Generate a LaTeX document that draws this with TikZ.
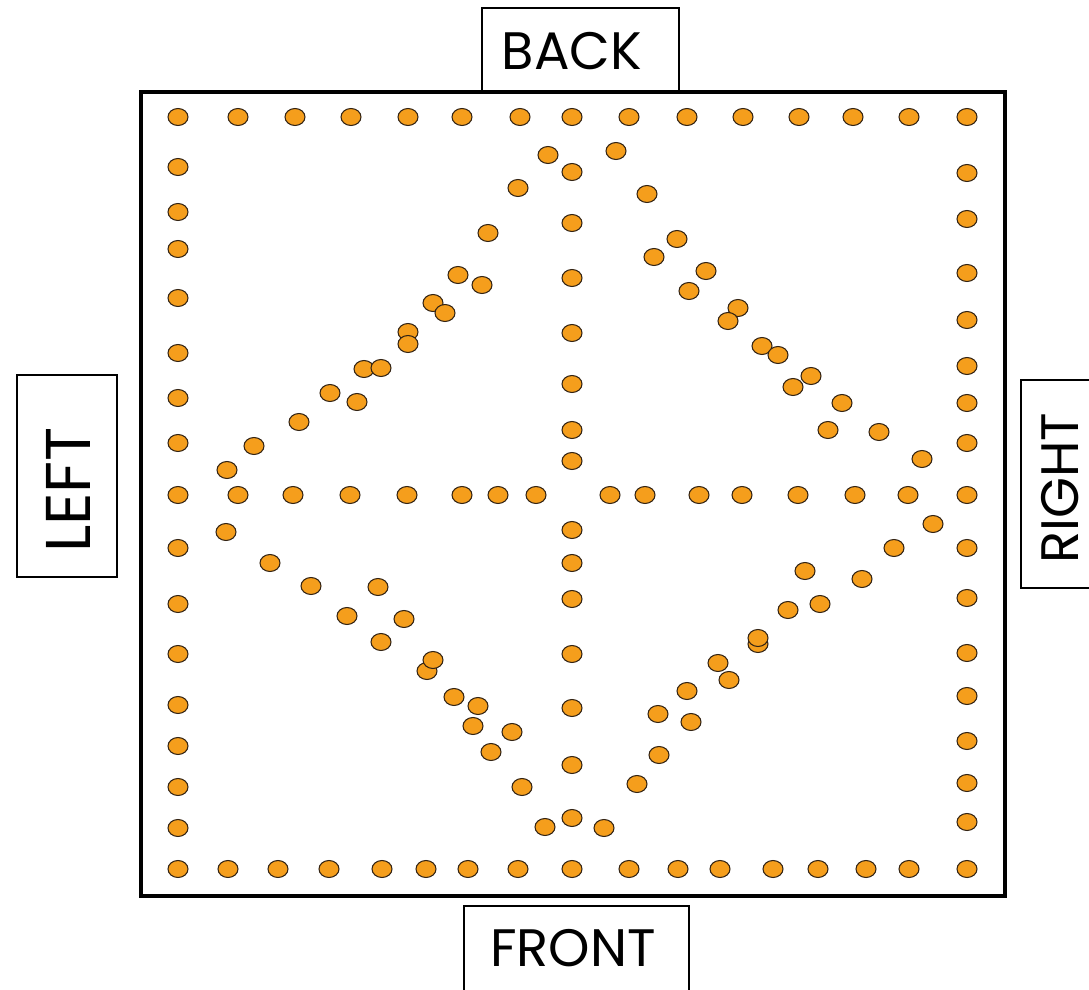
\documentclass[tikz,border=0pt]{standalone}
\usepackage{fontspec}
\setmainfont{Poppins}
\definecolor{dotorange}{RGB}{245,158,28}
\definecolor{dotline}{RGB}{50,35,20}
\tikzset{
  dot/.style={fill=dotorange,draw=dotline,line width=0.6pt},
  labelbox/.style={draw=black,line width=0.8pt},
  sidelabel/.style={inner sep=0pt,anchor=base,font=\fontsize{30}{30}\selectfont}
}
\begin{document}
\begin{tikzpicture}[x=0.02cm,y=-0.02cm]
\useasboundingbox (0,0) rectangle (1089,990);
\fill[white] (0,0) rectangle (1089,990);
% outer frame
\draw[line width=2.3pt] (141,92) rectangle (1005,896);
% label boxes
\draw[labelbox] (482,92) -- (482,8) -- (679,8) -- (679,92);
\draw[labelbox] (17,375) rectangle (117,577);
\draw[labelbox] (1100,380) -- (1021,380) -- (1021,588) -- (1100,588);
\draw[labelbox] (464,1000) -- (464,906) -- (689,906) -- (689,1000);
\node[sidelabel] (back) at (572,70) {BACK};
\node[sidelabel] (front) at (573,966) {FRONT};
\node[sidelabel,rotate=90,font=\fontsize{36}{36}\selectfont] (left) at (90,490) {LEFT};
\node[sidelabel,rotate=90] (right) at (1078,488) {RIGHT};
% top row
\foreach \x in {178,238,295,351,408,462,520,572,629,687,743,799,853,909,967}
  \draw[dot] (\x,117) ellipse (10 and 8.5);
% bottom row
\foreach \x in {178,228,278,329,382,426,468,518,572,629,678,720,773,818,866,909,967}
  \draw[dot] (\x,869) ellipse (10 and 8.5);
% left column
\foreach \y in {167,212,249,298,353,398,443,495,548,604,654,705,746,787,828}
  \draw[dot] (178,\y) ellipse (10 and 8.5);
% right column
\foreach \y in {173,219,273,320,366,403,443,495,548,598,653,696,741,783,822}
  \draw[dot] (967,\y) ellipse (10 and 8.5);
% middle row
\foreach \x in {238,293,350,407,462,498,536,610,645,699,742,798,855,908}
  \draw[dot] (\x,495) ellipse (10 and 8.5);
% middle column
\foreach \y in {172,223,278,333,384,430,461,530,563,599,654,708,765,818}
  \draw[dot] (572,\y) ellipse (10 and 8.5);
% upper-left diagonal
\foreach \x/\y in {548/155,518/188,488/233,458/275,482/285,433/303,445/313,408/332,408/344,364/369,381/368,330/393,357/402,299/422,254/446,227/470}
  \draw[dot] (\x,\y) ellipse (10 and 8.5);
% upper-right diagonal
\foreach \x/\y in {616/151,647/194,677/239,654/257,706/271,689/291,738/308,728/321,762/346,778/355,811/376,793/387,842/403,828/430,879/432,922/459}
  \draw[dot] (\x,\y) ellipse (10 and 8.5);
% lower-left diagonal
\foreach \x/\y in {226/532,270/563,311/586,378/587,347/616,404/619,381/642,427/671,433/660,454/697,473/726,478/706,512/732,491/752,522/787,545/827}
  \draw[dot] (\x,\y) ellipse (10 and 8.5);
% lower-right diagonal
\foreach \x/\y in {933/524,894/548,862/579,805/571,820/604,788/610,758/644,758/638,718/663,729/680,687/691,658/714,691/722,659/755,637/784,604/828}
  \draw[dot] (\x,\y) ellipse (10 and 8.5);
\end{tikzpicture}
\end{document}
